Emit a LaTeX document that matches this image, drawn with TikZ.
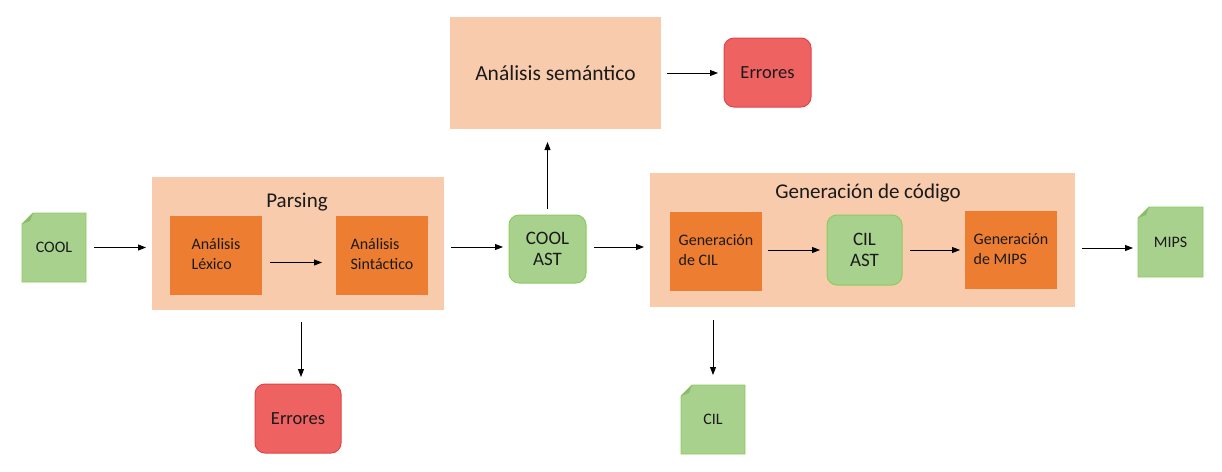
\documentclass[tikz,border=0pt]{standalone}
\usepackage{fontspec}
\setmainfont{Carlito}
\usetikzlibrary{arrows.meta,backgrounds}
\definecolor{peach}{HTML}{F8CBAD}
\definecolor{orng}{HTML}{ED7D31}
\definecolor{grn}{HTML}{A9D18E}
\definecolor{grnline}{HTML}{8CCB5E}
\definecolor{folddark}{HTML}{8DBB6E}
\definecolor{redfill}{HTML}{EE6262}
\definecolor{redline}{HTML}{E04446}
\definecolor{txt}{HTML}{1A1A1A}
\newcommand{\docshape}[1]{%
  \filldraw[fill=grn, draw=grnline, line width=0.8pt]
    ([xshift=11pt]#1.north west) -- (#1.north east) -- (#1.south east) -- (#1.south west) -- ([yshift=-11pt]#1.north west) -- cycle;
  \fill[folddark] ([yshift=-11pt]#1.north west) -- ([xshift=11pt]#1.north west) -- ([xshift=8pt,yshift=-8pt]#1.north west) -- cycle;}
\begin{document}
\begin{tikzpicture}[x=1pt,y=-1pt,
  every node/.style={inner sep=0pt, outer sep=0pt, text=txt},
  container/.style={fill=peach},
  title/.style={anchor=base, font=\fontsize{21}{25}\selectfont},
  stagebox/.style={fill=orng, minimum width=92pt, minimum height=79pt, align=left, font=\fontsize{16}{20}\selectfont},
  astbox/.style={fill=grn, draw=grnline, line width=1pt, rounded corners=10pt, align=center, font=\fontsize{19}{21.5}\selectfont},
  errbox/.style={fill=redfill, draw=redline, line width=1pt, rounded corners=10pt, minimum width=87pt, minimum height=69pt, font=\fontsize{18.5}{22}\selectfont},
  docbox/.style={minimum width=64pt, minimum height=69pt, font=\fontsize{16}{19}\selectfont},
  arr/.style={-{Triangle[length=8pt,width=6pt]}, line width=0.9pt, draw=black}]
\useasboundingbox (0,0) rectangle (1222,471);

% containers
\node[container, minimum width=211pt, minimum height=112pt, font=\fontsize{21.5}{25}\selectfont] (sem) at (555.5,73) {Análisis semántico};
\node[container, minimum width=292pt, minimum height=133pt] (parsing) at (298,243.5) {};
\node[title] (ptitle) at (297,207) {Parsing};
\node[container, minimum width=425pt, minimum height=134pt] (gen) at (862.5,240) {};
\node[title] (gtitle) at (868,198) {Generación de código};

% inner stages
\node[stagebox] (lex) at (216,255.5) {\raisebox{2pt}{\begin{tabular}{@{}l@{}}Análisis\\Léxico\end{tabular}}};
\node[stagebox] (sin) at (382,255.5) {\raisebox{3pt}{\begin{tabular}{@{}l@{}}Análisis\\Sintáctico\end{tabular}}};
\node[stagebox] (gencil) at (716,251.5) {\raisebox{3pt}{\begin{tabular}{@{}l@{}}Generación\\de CIL\end{tabular}}};
\node[stagebox, minimum height=78pt] (genmips) at (1011,250) {\raisebox{5pt}{\begin{tabular}{@{}l@{}}Generación\\de MIPS\end{tabular}}};

% ASTs
\node[astbox, minimum width=77pt, minimum height=68pt] (coolast) at (547.5,249) {COOL\\AST};
\node[astbox, minimum width=75pt, minimum height=70pt] (cilast) at (864.5,250) {CIL\\AST};

% errors
\node[errbox] (errtop) at (767.5,72.5) {Errores};
\node[errbox, minimum width=86pt] (errbot) at (298,418.5) {Errores};

% documents
\node[docbox] (cool) at (54,247.5) {COOL};
\node[docbox, minimum width=65pt, minimum height=70pt] (mips) at (1170.5,242) {MIPS};
\node[docbox] (cildoc) at (713,419.5) {CIL};
\begin{scope}[on background layer]
  \docshape{cool}
  \docshape{mips}
  \docshape{cildoc}
\end{scope}

% connectors
\draw[arr, shorten <=8pt, shorten >=6pt] (cool.east) -- (cool.east -| parsing.west);
\draw[arr, shorten <=8pt, shorten >=14pt] ([yshift=-7pt]lex.east) -- ([yshift=-7pt]lex.east -| sin.west);
\draw[arr, shorten <=7pt, shorten >=6pt] ([yshift=2pt]coolast.west -| parsing.east) -- ([yshift=2pt]coolast.west);
\draw[arr, shorten <=6pt, shorten >=13pt] (coolast.north) -- (coolast.north |- sem.south);
\draw[arr, shorten <=6pt, shorten >=6pt] (sem.east) -- (sem.east -| errtop.west);
\draw[arr, shorten <=8pt, shorten >=6pt] ([yshift=2pt]coolast.east) -- ([yshift=2pt]coolast.east -| gen.west);
\draw[arr, shorten <=6pt, shorten >=7pt] (cilast.west -| gencil.east) -- (cilast.west);
\draw[arr, shorten <=8pt, shorten >=5pt] (cilast.east) -- (cilast.east -| genmips.west);
\draw[arr, shorten <=7pt, shorten >=5pt] ([yshift=-6pt]mips.west -| gen.east) -- ([yshift=-6pt]mips.west);
\draw[arr, shorten <=12pt, shorten >=7pt] ([xshift=3pt]errbot.north |- parsing.south) -- ([xshift=3pt]errbot.north);
\draw[arr, shorten <=13pt, shorten >=10pt] (cildoc.north |- gen.south) -- (cildoc.north);
\end{tikzpicture}
\end{document}
